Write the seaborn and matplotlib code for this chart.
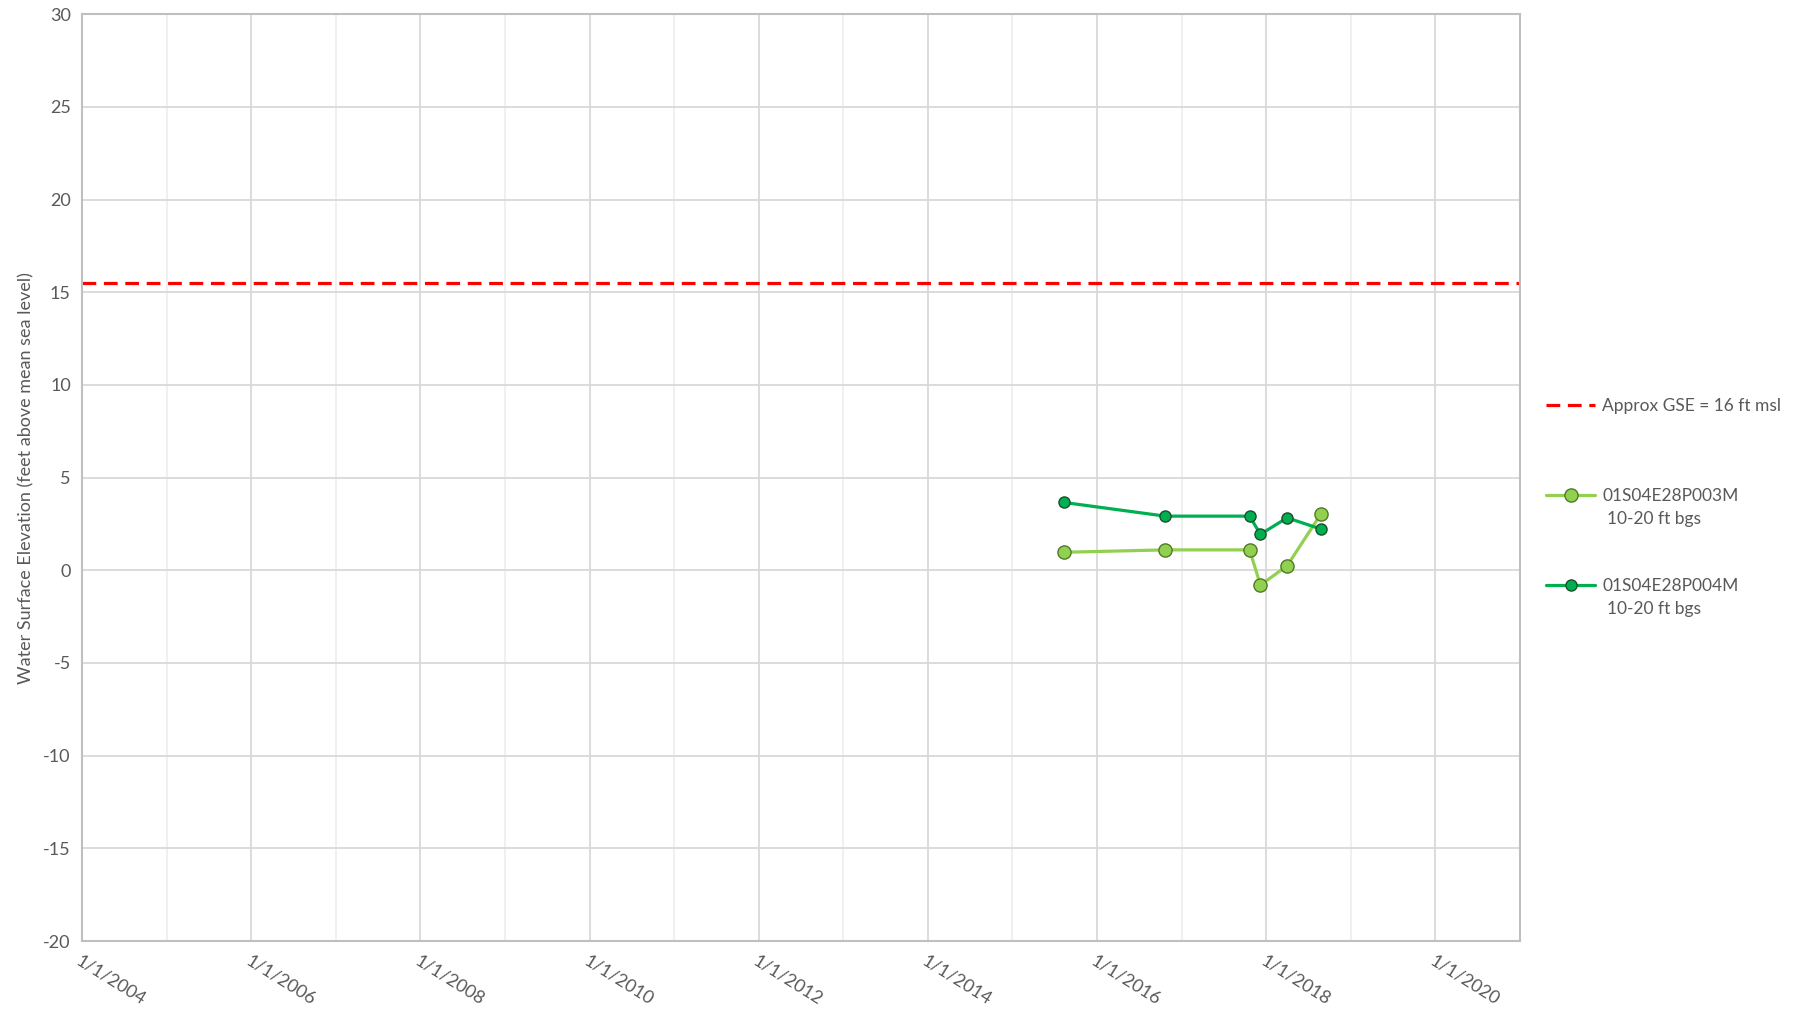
"""
Water surface elevation hydrograph for wells 01S04E28P003M / P004M.
"""

import matplotlib
matplotlib.use("Agg")
import matplotlib.pyplot as plt
import matplotlib.dates as mdates
import pandas as pd
import seaborn as sns

# Readings (dates shared by both wells)
dates = ["2015-08-10", "2016-10-22", "2017-10-21", "2017-12-07", "2018-04-01", "2018-08-26"]
p003_elev = [0.97, 1.10, 1.10, -0.80, 0.24, 3.05]
p004_elev = [3.66, 2.92, 2.92, 1.94, 2.83, 2.22]
gse_elev = 15.5

well_names = ["01S04E28P003M", "01S04E28P004M"]
well_screens = ["10-20 ft bgs", "10-20 ft bgs"]
gse_label = "Approx GSE = 16 ft msl"
y_ticks = list(range(-20, 31, 5))

TEXT = "#595959"
GRID = "#d9d9d9"

sns.set_theme(style="white")
plt.rcParams["font.family"] = ["Lato", "DejaVu Sans"]
plt.rcParams["axes.unicode_minus"] = False

df = pd.DataFrame({
    "date": pd.to_datetime(dates * 2),
    "elev": p003_elev + p004_elev,
    "well": [well_names[0]] * len(dates) + [well_names[1]] * len(dates),
})

fig = plt.figure(figsize=(18.01, 10.10), dpi=100)
ax = fig.add_axes([0.0455, 0.0683, 0.7985, 0.9177])

ax.axhline(gse_elev, color="#ff0000", lw=2.3, linestyle=(0, (4.3, 2.4)),
           label=gse_label, zorder=2)

styles = {
    well_names[0]: dict(color="#92d050", mec="#4f7a28", ms=9.5),
    well_names[1]: dict(color="#00b050", mec="#1d4d2b", ms=8),
}
for well, st in styles.items():
    sub = df[df["well"] == well]
    sns.lineplot(data=sub, x="date", y="elev", ax=ax, color=st["color"],
                 lw=2.3, marker="o", markersize=st["ms"],
                 markerfacecolor=st["color"], markeredgecolor=st["mec"],
                 markeredgewidth=1.0, label=well, zorder=3)

ax.set_xlim(pd.Timestamp("2004-01-01"), pd.Timestamp("2021-01-01"))
ax.set_ylim(-20, 30)
ax.set_yticks(y_ticks)
ax.xaxis.set_major_locator(mdates.YearLocator(2, month=1, day=1))
ax.xaxis.set_minor_locator(mdates.YearLocator(1, month=1, day=1))
ax.xaxis.set_major_formatter(mdates.DateFormatter("%-m/%-d/%Y"))

ax.grid(which="major", color=GRID, lw=1.3)
ax.grid(which="minor", axis="x", color="#efefef", lw=1.3)
ax.set_axisbelow(True)
for sp in ax.spines.values():
    sp.set_color("#bfbfbf")
    sp.set_linewidth(1.5)

ax.tick_params(axis="both", length=0, labelsize=13, labelcolor=TEXT, pad=8)
for lbl in ax.get_xticklabels():
    lbl.set_rotation(-32)
    lbl.set_ha("left")
    lbl.set_va("top")
    lbl.set_rotation_mode("anchor")

ax.set_xlabel("")
ax.set_ylabel("Water Surface Elevation (feet above mean sea level)",
              fontsize=13, color=TEXT, labelpad=6)

leg = ax.legend(loc="upper left", bbox_to_anchor=(0.850, 0.621),
                bbox_transform=fig.transFigure, frameon=False, fontsize=12.5,
                labelcolor=TEXT, handlelength=2.8, handletextpad=0.4,
                labelspacing=4.26)

# second line of each well entry (screen interval) under its name
fig.canvas.draw()
inv = fig.transFigure.inverted()
for txt, screen in zip(leg.get_texts()[1:], well_screens):
    bb = txt.get_window_extent()
    x0, y0 = inv.transform((bb.x0, bb.y0))
    fig.text(x0 + 0.003, y0 - 0.007, screen, fontsize=12.5, color=TEXT,
             ha="left", va="top")

fig.savefig("out.png", dpi=100)
